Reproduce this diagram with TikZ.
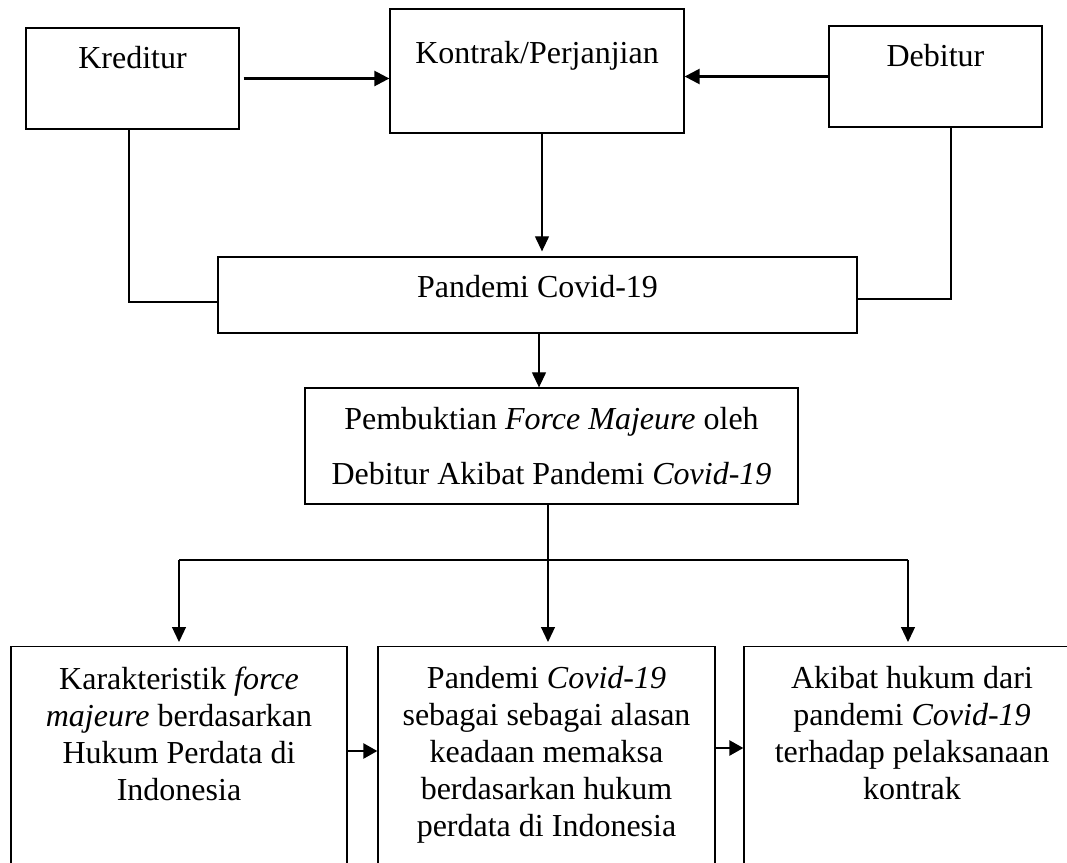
\documentclass[tikz,border=0pt]{standalone}
\usepackage{fontspec}
\setmainfont{Liberation Serif}
\usetikzlibrary{arrows.meta,positioning}

\tikzset{
  box/.style={draw, line width=1.3pt, inner sep=0pt},
  txt/.style={align=center, inner sep=0pt, anchor=north},
  link/.style={line width=1.2pt},
  arr/.style={line width=1.2pt, -{Triangle[length=15pt,width=14pt]}},
  bigarr/.style={line width=2.5pt, -{Triangle[length=15pt,width=15pt]}},
  smallarr/.style={line width=2.5pt, -{Triangle[length=14pt,width=15pt]}},
}

\begin{document}
\begin{tikzpicture}[x=1pt, y=-1pt, font=\fontsize{32}{37}\selectfont]
\useasboundingbox (0,0) rectangle (1067,862);
\clip (0,0) rectangle (1067,862);
% Top row
\node[box, minimum width=213pt, minimum height=101pt, text height=40.5pt, text depth=60.5pt] (kred) at (132.5,78.5) {Kreditur};
\node[box, minimum width=294pt, minimum height=124pt, text height=54.5pt, text depth=69.5pt] (kon) at (537,71) {Kontrak/Perjanjian};
\node[box, minimum width=213pt, minimum height=101pt, text height=40.5pt, text depth=60.5pt] (deb) at (935.5,76.5) {Debitur};
\draw[bigarr, shorten <=4pt] (kred.east) -- (kred.east -| kon.west);
\draw[bigarr] (deb.west) -- (deb.west -| kon.east);
% Pandemi
\node[box, minimum width=639pt, minimum height=76pt, text height=40.5pt, text depth=35.5pt] (pan) at (537.5,295) {Pandemi Covid-19};
\draw[arr, shorten >=5pt] ([xshift=5pt]kon.south) -- ([xshift=5pt]kon.south |- pan.north);
\draw[link] ([xshift=-3.5pt]kred.south) |- ([yshift=-7pt]pan.west);
\draw[link] ([xshift=15.5pt]deb.south) |- ([yshift=-4pt]pan.east);
% Pembuktian
\node[box, minimum width=493pt, minimum height=116pt, align=center, font=\fontsize{32}{55}\selectfont] (pem) at (551.5,446)
  {Pembuktian \textit{Force Majeure} oleh\\Debitur Akibat Pandemi \textit{Covid-19}};
\draw[arr] ([xshift=1.5pt]pan.south) -- ([xshift=1.5pt]pan.south |- pem.north);
% Bottom row
\node[box, minimum width=336pt, minimum height=300pt, anchor=north] (kar) at (179,646) {};
\node[box, minimum width=337pt, minimum height=300pt, anchor=north] (mid) at (546.5,646) {};
\node[box, minimum width=336pt, minimum height=300pt, anchor=north] (aki) at (912,646) {};
\node[txt] (kartxt) at ([yshift=-20.5pt]kar.north) {Karakteristik \textit{force}\\\textit{majeure} berdasarkan\\Hukum Perdata di\\Indonesia};
\node[txt] (midtxt) at ([yshift=-20.5pt]mid.north) {Pandemi \textit{Covid-19}\\sebagai sebagai alasan\\keadaan memaksa\\berdasarkan hukum\\perdata di Indonesia};
\node[txt] (akitxt) at ([yshift=-20.5pt]aki.north) {Akibat hukum dari\\pandemi \textit{Covid-19}\\terhadap pelaksanaan\\kontrak};
\coordinate (split) at (548,560);
\draw[link] (pem.south -| split) -- (split);
\draw[link] (kar.north |- split) -- ([xshift=-4pt]aki.north |- split);
\draw[arr, shorten >=4pt] (split) -- (mid.north -| split);
\draw[arr, shorten >=4pt] (kar.north |- split) -- (kar.north);
\draw[arr, shorten >=4pt] ([xshift=-4pt]aki.north |- split) -- ([xshift=-4pt]aki.north);
\draw[smallarr] ([yshift=-105pt]kar.north east) -- ([yshift=-105pt]kar.north east -| mid.west);
\draw[smallarr] ([yshift=-102pt]mid.north east) -- ([yshift=-102pt]mid.north east -| aki.west);
\end{tikzpicture}
\end{document}
